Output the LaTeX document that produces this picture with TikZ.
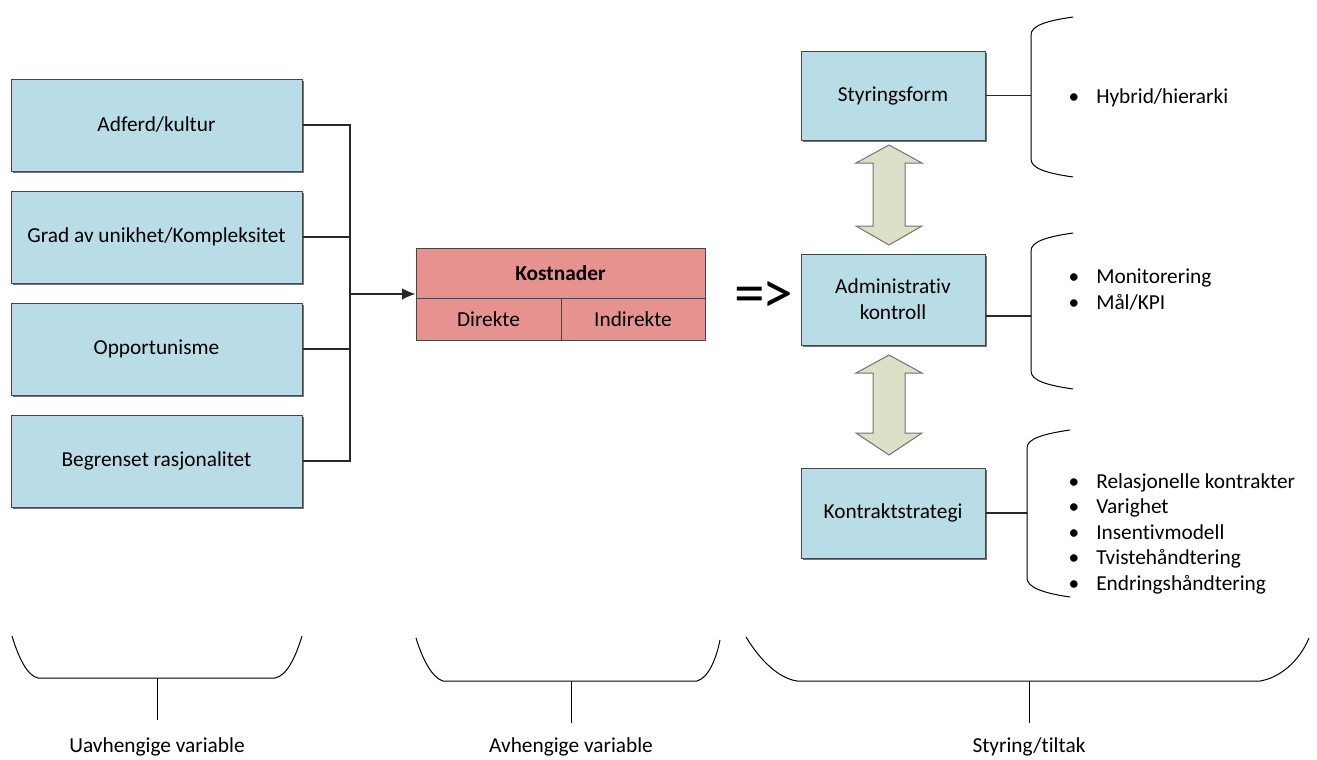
\documentclass[tikz,border=0pt]{standalone}
\usepackage{fontspec}
\setmainfont{Carlito}[Ligatures=NoCommon]
\usetikzlibrary{arrows.meta,shadows}

\definecolor{boxblue}{RGB}{185,221,230}
\definecolor{costred}{RGB}{230,146,142}
\definecolor{arrowfill}{RGB}{221,224,198}
\definecolor{edgegray}{RGB}{70,70,70}
\definecolor{linegray}{RGB}{40,40,40}

\tikzset{
  vbox/.style={draw=edgegray, line width=0.75pt, fill=boxblue, align=center,
    inner sep=0pt, font=\fontsize{16}{19.5}\selectfont,
    drop shadow={shadow xshift=1.2pt, shadow yshift=-1.2pt, fill=black!55, opacity=1}},
  leftbox/.style={vbox, minimum width=218.25pt, minimum height=69pt},
  rightbox/.style={vbox, minimum width=138pt},
  costcell/.style={draw=edgegray, line width=0.75pt, fill=costred, inner sep=0pt,
    font=\fontsize{16}{19.5}\selectfont},
  link/.style={draw=linegray, line width=0.9pt},
  brace/.style={draw=black, line width=0.75pt},
  dblarrow/.style={draw=black!55, line width=0.75pt, fill=arrowfill},
  item/.style={anchor=mid west, inner sep=0pt, font=\fontsize{16}{19.5}\selectfont},
  dot/.style={anchor=mid, inner sep=0pt, font=\fontsize{16}{19.5}\selectfont},
  caption/.style={inner sep=0pt, font=\fontsize{16}{19.5}\selectfont}
}

\begin{document}
\begin{tikzpicture}[x=0.75pt, y=-0.75pt]
\useasboundingbox (0,0) rectangle (1317,760);

% independent variables
\node[leftbox] (a1) at (156.5,125) {Adferd/kultur};
\node[leftbox] (a2) at (156.5,237) {Grad av unikhet/Kompleksitet};
\node[leftbox] (a3) at (156.5,349) {Opportunisme};
\node[leftbox] (a4) at (156.5,461) {Begrenset rasjonalitet};

% cost box
\node[costcell, minimum width=216.75pt, minimum height=37.5pt, font=\fontsize{16}{19.5}\selectfont\bfseries]
  (kost) at (560.5,273) {Kostnader};
\node[costcell, minimum width=108.75pt, minimum height=31.5pt] (dir) at (488.5,319) {Direkte};
\node[costcell, minimum width=108pt, minimum height=31.5pt] (ind) at (633,319) {Indirekte};

% collecting bracket and arrow
\coordinate (j1) at (350,125);
\coordinate (j4) at (350,461);
\coordinate (jm) at (350,294);
\draw[link] (a1.east) -- (j1) -- (j4) -- (a4.east);
\draw[link] (a2.east) -- (a2.east -| jm);
\draw[link] (a3.east) -- (a3.east -| jm);
\draw[link, -{Latex[length=10pt,width=8.5pt]}] (jm) -- (jm -| kost.west);

% implication sign
\node[inner sep=0pt, font=\fontsize{46}{50}\selectfont] (impl) at (764,297) {=\kern-2pt>};

% governance boxes
\node[rightbox, minimum height=66.75pt] (sty) at (893,95.5) {Styringsform};
\node[rightbox, minimum height=68.25pt] (adm) at (893,299.5) {Administrativ\\kontroll};
\node[rightbox, minimum height=67.5pt] (kon) at (893,513) {Kontraktstrategi};

% two-headed arrows between the boxes
\draw[dblarrow] (889,145) -- (922,163) -- (905,163) -- (905,226) -- (922,226) -- (889,245)
  -- (856,226) -- (873,226) -- (873,163) -- (856,163) -- cycle;
\draw[dblarrow] (889,355) -- (922,373) -- (905,373) -- (905,433) -- (922,433) -- (889,455)
  -- (856,433) -- (873,433) -- (873,373) -- (856,373) -- cycle;

% right braces
\coordinate (r1) at (1031,95.5);
\coordinate (r2) at (1031,316);
\coordinate (r3) at (1027,513);
\draw[link] (sty.east) -- (r1);
\draw[link] (adm.east |- r2) -- (r2);
\draw[link] (kon.east) -- (r3);

\draw[brace] (1073,17) .. controls (1045,21) and (1031,26) .. (1031,35)
  -- (1031,159) .. controls (1031,168) and (1045,173) .. (1073,177);
\draw[brace] (1073,233) .. controls (1045,237) and (1031,242) .. (1031,251)
  -- (1031,371) .. controls (1031,380) and (1045,385) .. (1073,389);
\draw[brace] (1070,430) .. controls (1042,434) and (1027,439) .. (1027,448)
  -- (1027,578) .. controls (1027,587) and (1042,593) .. (1070,597);

% bullet lists
\foreach \y/\t [count=\i] in {98/{Hybrid/hierarki}, 278/Monitorering, 304/{Mål/KPI},
    483/Relasjonelle kontrakter, 508/Varighet, 534/Insentivmodell,
    559/Tvistehåndtering, 585/Endringshåndtering}{
  \node[dot] (b\i) at (1074,\y+2) {•};
  \node[item] (t\i) at (1096,\y+2) {\t};
}

% bottom braces with captions
\draw[brace] (12,636) .. controls (18,656) and (27,676) .. (38,678) -- (275,678)
  .. controls (287,676) and (296,656) .. (302,636);
\coordinate (c1) at (157,678);
\node[caption] (l1) at (157,747) {Uavhengige variable};
\draw[brace] (c1) -- (157,720);

\draw[brace] (416,638) .. controls (422,658) and (432,678) .. (443,681) -- (697,681)
  .. controls (708,678) and (716,660) .. (720,640);
\coordinate (c2) at (571,681);
\node[caption] (l2) at (571,747) {Avhengige variable};
\draw[brace] (c2) -- (571,723);

\draw[brace] (746,637) .. controls (760,660) and (778,678) .. (797,681) -- (1260,681)
  .. controls (1279,678) and (1299,662) .. (1309,638);
\coordinate (c3) at (1029,681);
\node[caption] (l3) at (1029,747) {Styring/tiltak};
\draw[brace] (c3) -- (1029,723);
\end{tikzpicture}
\end{document}
